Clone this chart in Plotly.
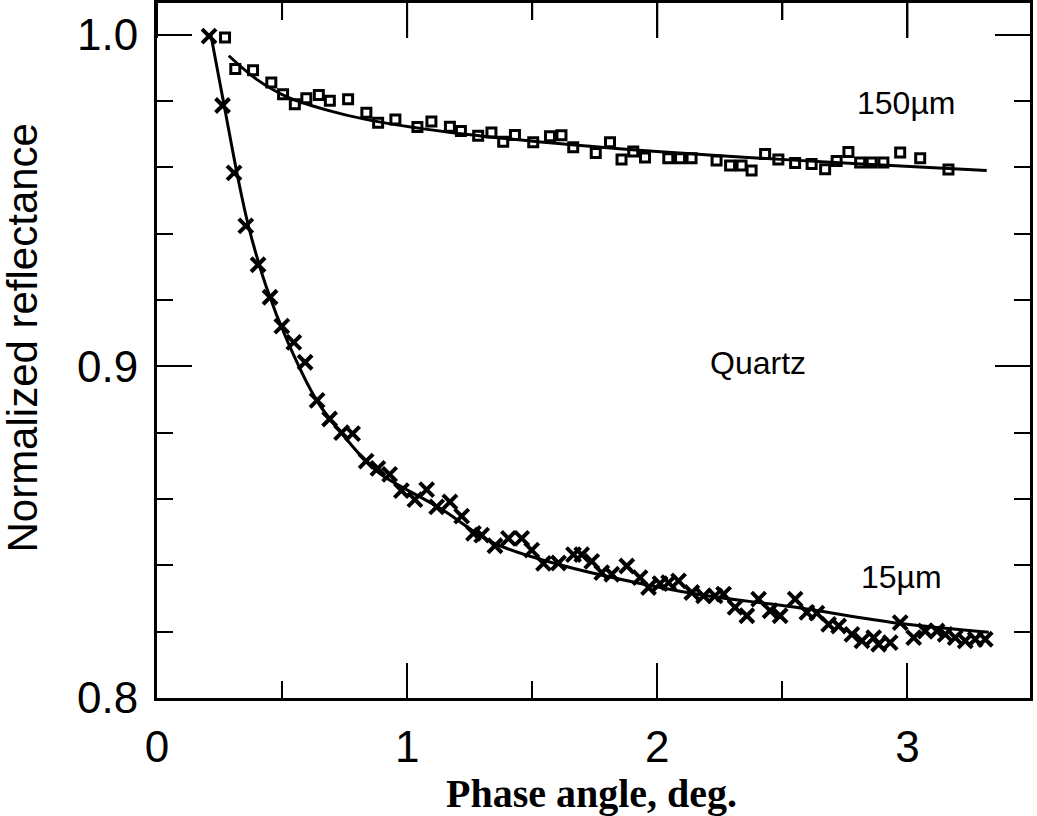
import plotly.graph_objects as go

# 150 um sample (open squares)
phase_150 = [0.272, 0.313, 0.384, 0.457, 0.504, 0.551, 0.597, 0.647, 0.691, 0.764,
             0.837, 0.884, 0.953, 1.041, 1.097, 1.171, 1.215, 1.284, 1.337, 1.384,
             1.431, 1.504, 1.571, 1.617, 1.664, 1.754, 1.811, 1.857, 1.904, 1.951,
             2.044, 2.091, 2.137, 2.237, 2.291, 2.337, 2.377, 2.431, 2.484, 2.551,
             2.617, 2.671, 2.717, 2.764, 2.811, 2.857, 2.904, 2.971, 3.051, 3.164]
refl_150 = [0.9991, 0.9896, 0.9892, 0.9855, 0.9820, 0.9790, 0.9808, 0.9818, 0.9800, 0.9805,
            0.9764, 0.9734, 0.9744, 0.9721, 0.9738, 0.9722, 0.9709, 0.9695, 0.9705, 0.9677,
            0.9697, 0.9675, 0.9693, 0.9696, 0.9660, 0.9643, 0.9675, 0.9623, 0.9647, 0.9629,
            0.9627, 0.9627, 0.9627, 0.9620, 0.9605, 0.9605, 0.9590, 0.9640, 0.9623, 0.9613,
            0.9610, 0.9594, 0.9619, 0.9646, 0.9614, 0.9614, 0.9614, 0.9644, 0.9627, 0.9593]

# 15 um sample (crosses)
phase_15 = [0.208, 0.262, 0.308, 0.355, 0.404, 0.452, 0.499, 0.547, 0.592, 0.640,
            0.690, 0.738, 0.782, 0.836, 0.883, 0.930, 0.977, 1.031, 1.078, 1.118,
            1.171, 1.218, 1.265, 1.298, 1.351, 1.405, 1.458, 1.498, 1.545, 1.605,
            1.665, 1.698, 1.738, 1.778, 1.818, 1.878, 1.931, 1.965, 2.011, 2.045,
            2.085, 2.138, 2.185, 2.231, 2.265, 2.311, 2.358, 2.405, 2.451, 2.491,
            2.551, 2.598, 2.638, 2.685, 2.725, 2.778, 2.818, 2.865, 2.885, 2.931,
            2.971, 3.025, 3.071, 3.118, 3.151, 3.191, 3.231, 3.271, 3.311]
refl_15 = [0.9995, 0.9786, 0.9583, 0.9423, 0.9306, 0.9208, 0.9121, 0.9072, 0.9012, 0.8897,
           0.8841, 0.8800, 0.8797, 0.8714, 0.8692, 0.8674, 0.8625, 0.8598, 0.8628, 0.8576,
           0.8591, 0.8548, 0.8496, 0.8491, 0.8459, 0.8481, 0.8481, 0.8446, 0.8406, 0.8407,
           0.8432, 0.8432, 0.8412, 0.8378, 0.8373, 0.8398, 0.8363, 0.8333, 0.8345, 0.8348,
           0.8353, 0.8318, 0.8308, 0.8308, 0.8313, 0.8273, 0.8248, 0.8298, 0.8263, 0.8248,
           0.8298, 0.8258, 0.8256, 0.8222, 0.8217, 0.8192, 0.8172, 0.8182, 0.8162, 0.8167,
           0.8227, 0.8182, 0.8202, 0.8202, 0.8192, 0.8182, 0.8172, 0.8177, 0.8177]

# fitted curves
fit_150_x = [0.287, 0.40, 0.52, 0.68, 0.83, 1.16, 1.68, 2.22, 2.82, 3.317]
fit_150_y = [0.9936, 0.9864, 0.9812, 0.9772, 0.9745, 0.9706, 0.9666, 0.9636, 0.9610, 0.9590]

fit_15_x = [0.215, 0.27, 0.325, 0.366, 0.436, 0.524, 0.640, 0.748, 0.829, 0.896,
            1.138, 1.338, 1.618, 1.965, 2.218, 2.538, 2.965, 3.325]
fit_15_y = [1.0, 0.9780, 0.9562, 0.9422, 0.9241, 0.9071, 0.8895, 0.8789, 0.8719, 0.8674,
            0.8569, 0.8470, 0.8400, 0.8340, 0.8306, 0.8275, 0.8225, 0.8198]

labels = ["150\u00b5m", "Quartz", "15\u00b5m"]
label_x = [2.996, 2.404, 2.978]
label_y = [0.9795, 0.9009, 0.8364]

x_major = [0, 1, 2, 3]
x_minor = [0.5, 1.5, 2.5]
y_major = [0.8, 0.9, 1.0]
y_minor = [0.82, 0.84, 0.86, 0.88, 0.92, 0.94, 0.96, 0.98]

fig = go.Figure()

fig.add_trace(go.Scatter(x=fit_150_x, y=fit_150_y, mode="lines",
                         line=dict(color="black", width=3, shape="spline", smoothing=1.0)))
fig.add_trace(go.Scatter(x=fit_15_x, y=fit_15_y, mode="lines",
                         line=dict(color="black", width=3, shape="spline", smoothing=1.0)))
fig.add_trace(go.Scatter(x=phase_150, y=refl_150, mode="markers",
                         marker=dict(symbol="square-open", size=9, color="black",
                                     line=dict(width=3, color="black"))))
fig.add_trace(go.Scatter(x=phase_15, y=refl_15, mode="markers",
                         marker=dict(symbol="x-thin-open", size=14, color="black",
                                     line=dict(width=4, color="black"))))

for txt, lx, ly in zip(labels, label_x, label_y):
    fig.add_annotation(x=lx, y=ly, text=txt, showarrow=False,
                       xanchor="center", yanchor="middle",
                       font=dict(family="Liberation Sans, Arial", size=32, color="black"))

# axis titles placed as annotations
fig.add_annotation(xref="paper", yref="paper", x=-0.154, y=0.518,
                   text="Normalized reflectance", textangle=-90, showarrow=False,
                   xanchor="center", yanchor="middle",
                   font=dict(family="Liberation Sans, Arial", size=42, color="black"))
fig.add_annotation(xref="paper", yref="paper", x=0.498, y=-0.137,
                   text="<b>Phase angle, deg.</b>", showarrow=False,
                   xanchor="center", yanchor="middle",
                   font=dict(family="Liberation Serif, Times New Roman", size=40, color="black"))

# top-edge ticks (the mirrored x ticks did not show up in the full figure)
plot_h = 816 - 3 - 118
for xv in x_major:
    fig.add_shape(type="line", xref="x", yref="paper", x0=xv, x1=xv,
                  y0=1, y1=1 - 35 / plot_h, line=dict(color="black", width=2), layer="above")
for xv in x_minor:
    fig.add_shape(type="line", xref="x", yref="paper", x0=xv, x1=xv,
                  y0=1, y1=1 - 17 / plot_h, line=dict(color="black", width=2), layer="above")

axis_common = dict(showline=True, linecolor="black", linewidth=3, mirror="allticks",
                   ticks="inside", ticklen=35, tickwidth=2, tickcolor="black",
                   showgrid=False, zeroline=False, automargin=False,
                   tickfont=dict(family="Liberation Sans, Arial", size=44, color="black"))

fig.update_xaxes(range=[0, 3.49], tickvals=x_major, ticktext=[str(v) for v in x_major],
                 minor=dict(ticks="inside", ticklen=17, tickwidth=2, tickcolor="black",
                            tickvals=x_minor),
                 ticklabelstandoff=8, **axis_common)
fig.update_yaxes(range=[0.8, 1.0095], tickvals=y_major, ticktext=[f"{v:.1f}" for v in y_major],
                 minor=dict(ticks="inside", ticklen=16, tickwidth=2, tickcolor="black",
                            tickvals=y_minor),
                 ticklabelstandoff=7, **axis_common)

fig.update_layout(width=1037, height=816, showlegend=False, template="none",
                  plot_bgcolor="white", paper_bgcolor="white",
                  margin=dict(l=157, r=7, t=3, b=118))

fig.write_html("out.html", config={"displayModeBar": False},
               post_script="document.body.style.margin='0';")
